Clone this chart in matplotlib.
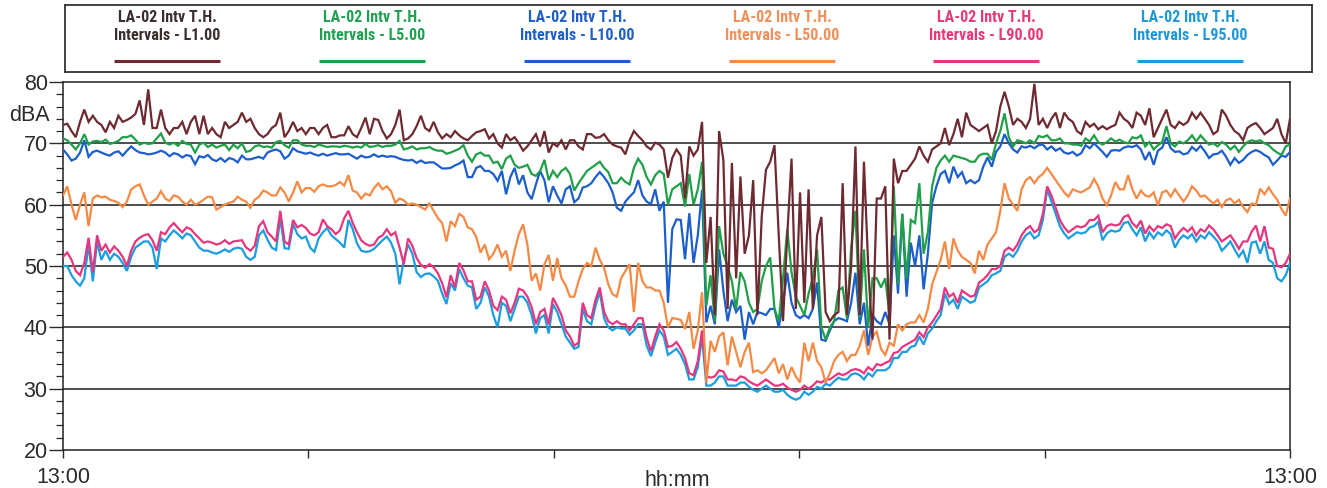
import numpy as np
import matplotlib
matplotlib.use("Agg")
import matplotlib.pyplot as plt
from matplotlib import font_manager
from matplotlib.ticker import MultipleLocator, FixedLocator

# ---------------- data (5-minute intervals, 13:00 -> 13:00) ----------------
L1_values = [
    73, 73.2, 72, 71, 73.5, 75.5, 73.5, 74.5, 73.5, 73, 71.8, 73.5, 72.5, 74.5, 73.5, 73.8, 74.2, 74.8, 77, 73, 78.8, 72.5, 72.5, 75.5,
    72.5, 71.5, 72.5, 72.5, 73.5, 71.5, 73.5, 74.5, 71.5, 74.5, 71.5, 72.5, 71.5, 71, 73.5, 72.5, 73, 73.5, 75, 73.5, 74, 72.5, 71.5, 71,
    71.5, 72.5, 73, 75, 71, 72, 73.5, 72, 72.5, 71.5, 72.5, 72.5, 71.5, 72.5, 73, 71, 71, 71.3, 71.3, 72.8, 71.5, 71, 72.5, 74.2,
    71.5, 74, 73.8, 72, 70.8, 71.5, 73, 75.5, 70.5, 70.8, 71.5, 72.8, 74.5, 72.5, 72, 73.5, 71.8, 70.8, 71.5, 71, 72, 71.3, 70.8, 70.5,
    71.2, 71.8, 72, 72.3, 70.8, 71.5, 70, 69.3, 71.5, 70.5, 71, 70, 68.8, 69.5, 70.5, 71.5, 69.5, 72, 68.5, 70, 69.5, 70.5, 69, 70.5,
    70.5, 69.5, 69, 71.5, 71.5, 70.9, 71, 71.5, 70.5, 69.8, 69.5, 69.3, 68.2, 70.5, 72, 71.2, 70.5, 69.5, 69, 70.1, 69.8, 69, 64.4, 67.6,
    69, 68, 61, 69.5, 68, 69, 73.5, 50.5, 58, 42, 72, 67.3, 43, 66.8, 48, 64.6, 52, 55, 64, 42, 58, 65.7, 67, 69.7,
    55, 41, 55, 67.5, 43, 62, 44, 62.5, 43, 55, 58, 42.5, 41, 42, 42.5, 63.5, 42, 50, 69.5, 42, 67, 50, 38, 61,
    61, 63, 38, 67.5, 63.5, 65.5, 65.5, 66.5, 67.5, 69.5, 68, 67, 69, 69.5, 70, 72.5, 69.7, 71.5, 74, 71, 75, 73, 72.5, 72,
    72.5, 73, 70, 72, 76, 78.4, 76, 73, 74, 73.5, 72.5, 74, 79.7, 73, 74, 72.5, 74, 75, 72.5, 75, 74, 73.5, 72, 71.5,
    73.5, 72.7, 73.2, 72.3, 72.8, 72.3, 72.7, 73, 75, 74, 73.5, 72.5, 75, 74.5, 73, 75.7, 71, 72.5, 74, 75.5, 73, 72.5, 73.5, 73,
    73.5, 75, 74, 75, 74, 73, 71.5, 72, 75.5, 74.5, 73, 72, 71.5, 70.5, 72.5, 73, 73.3, 72.5, 71.5, 72, 72.5, 74, 71.5, 70, 74,
]
L5_values = [
    70.8, 70.5, 69.8, 69, 70, 71.5, 69.8, 70.3, 70.4, 70.2, 70.6, 69.9, 70.1, 70.4, 71, 71, 71.3, 70.6, 69.8, 70.1, 69.9, 70, 70.8, 71.6,
    70.1, 69.8, 70.1, 69.6, 70.4, 69.9, 69.8, 68.5, 69.8, 70.1, 69.4, 69.8, 69.3, 69.6, 69.8, 68.9, 69.8, 69.2, 70, 68.6, 68.8, 69.5, 69.7, 69.4,
    69.5, 69.3, 70.2, 70.4, 69.7, 69.3, 70.5, 70.5, 69.8, 69.6, 69.6, 69.4, 69.8, 69.6, 69.4, 69.5, 69.5, 69.4, 69.6, 69.5, 69.3, 69.5, 69.3, 69.9,
    69.4, 69.5, 69.7, 69.4, 69.6, 69.6, 69.8, 70.4, 69, 69.2, 69.5, 69, 69.2, 69.2, 69.4, 69, 68.8, 68.8, 68.3, 68.5, 68.8, 69.1, 69.7, 68,
    67, 68.2, 68.5, 68, 68, 66.8, 67, 65.8, 67.5, 68, 66.5, 66, 66.2, 66.5, 65, 64.7, 65.5, 67.3, 64, 65.5, 64.5, 65.5, 66, 65,
    62.3, 63.5, 64.5, 65.5, 66, 66.5, 67, 66, 65.3, 63.5, 63.5, 64.4, 63.7, 63.3, 66, 67.5, 66.5, 64.5, 63.3, 64.8, 65.5, 65, 60, 62.5,
    63, 63.5, 59.7, 65, 60, 62.5, 67, 43.5, 48.5, 41, 56.5, 52, 50, 47.5, 43, 49, 47.5, 44, 42.5, 43, 47.5, 50, 51.4, 43,
    41, 48, 56, 49, 45, 43.5, 42, 45.5, 48, 52.7, 40, 38, 40, 41, 46, 46.5, 41.5, 53, 59, 41.5, 52.7, 40, 48, 48,
    46.5, 48, 42, 63, 47, 58.5, 48, 57.5, 57, 63.5, 52, 55.5, 63, 66, 67.2, 68, 67, 68, 67.8, 67.6, 67.4, 67, 67, 68,
    68.3, 68.3, 67.3, 70, 72, 74.9, 71, 69.5, 70.5, 70.3, 70, 70.5, 70, 71.2, 71, 71.3, 70.5, 70.5, 70.8, 70, 70, 69.8, 69.8, 69.6,
    70.8, 70.3, 71.3, 70.2, 69.8, 70.2, 70.8, 70.3, 70.6, 70.2, 70, 71, 70.8, 71.3, 69.5, 70.2, 69, 69.7, 70.2, 72.8, 70, 69.5, 70.3, 70,
    70.5, 71.3, 70.3, 71.3, 70.5, 69.8, 70, 69.5, 70.2, 69.8, 69, 69.6, 68.6, 69.5, 70.2, 70.5, 70.3, 70.5, 70, 69.7, 69, 68.5, 68.1, 69.5, 69.8,
]
L10_values = [
    69, 68.2, 67.2, 67.5, 68.5, 70.5, 67.8, 68.6, 68.8, 68.5, 68.2, 68, 68.5, 68.7, 68, 68.8, 69.5, 68.9, 68.5, 68.4, 68.2, 68.3, 68.5, 68.8,
    68.5, 67.9, 68.4, 68.2, 67.7, 68.1, 67.9, 66.6, 67.9, 67.7, 68.1, 67.4, 67.1, 67.6, 67, 67.6, 67.4, 66.9, 68, 67.4, 67.4, 67.6, 67.8, 67.5,
    68.5, 68.8, 69, 68.7, 67.5, 68, 69.2, 68.7, 68.5, 68.3, 68.5, 68.2, 68, 68.3, 68, 68.2, 68.4, 68.2, 68.2, 68.3, 67.9, 67.5, 68, 67.7,
    67.8, 68.2, 67.8, 68, 67.8, 67.9, 67.8, 67.5, 67.3, 67.2, 67.3, 66.8, 67.2, 66.8, 66.9, 66.9, 66.4, 65.9, 65.9, 66, 66.4, 66.7, 67.2, 64.5,
    64.5, 66, 66.3, 65.5, 65.5, 65, 63.9, 65.5, 61.7, 64.5, 66, 63.3, 64.8, 62, 60.9, 63.3, 65.5, 64, 60.4, 63, 61.5, 60.2, 62.5, 63,
    60.4, 61, 62.8, 63, 63.5, 64.5, 65.3, 64.5, 63.5, 62, 59.5, 59, 60.5, 61.3, 62, 64, 61.5, 60.5, 60.1, 62.5, 59, 60.5, 44, 56,
    57.6, 57.5, 51.1, 58.6, 50.5, 55, 62.4, 40.8, 43.5, 40.5, 52.7, 46, 41, 44.5, 42.5, 43.5, 38, 42.5, 40.5, 42.5, 42.3, 42, 43, 43,
    40, 44, 48.9, 44, 42, 41.5, 42, 41.5, 43, 47.3, 38, 37.8, 39.5, 41, 41.5, 41.3, 41, 44, 48.9, 40.5, 44, 37, 42, 41,
    40.5, 42.5, 40.5, 55, 45.5, 58.5, 45, 53.8, 50, 55, 46.2, 52, 60.3, 63, 65, 65.5, 63.5, 66.2, 64.5, 65.3, 63.5, 64, 63.5, 64,
    66.2, 67.7, 66.2, 68.6, 69.5, 71.5, 70, 69, 68.5, 69.5, 69.3, 69.6, 69.2, 69.7, 69.8, 69, 69.5, 68.8, 69.2, 68.5, 68.3, 68.6, 68, 68.4,
    69.7, 69.2, 70, 69.3, 68.6, 67.8, 68.8, 68.9, 68.8, 69.3, 69.5, 69.4, 69.7, 69, 67.3, 68.6, 66.5, 68.8, 69.3, 71, 69.2, 68.6, 68.7, 68.2,
    68.4, 69.4, 68.8, 69.6, 68.7, 67.6, 68.2, 68.3, 68.8, 67.8, 66.5, 67.6, 66.8, 67.3, 68.1, 68.6, 68.9, 68.6, 68.1, 67.7, 66.5, 67.2, 68, 67.8, 68.6,
]
L50_values = [
    61.5, 63, 60, 57.5, 60, 62, 56.5, 61, 61.5, 61.2, 61.3, 60.8, 60.6, 60.3, 59.6, 60.5, 62.5, 63, 63.3, 61.5, 60, 60.5, 61, 62.2,
    61, 60.6, 61.5, 61.3, 60.5, 60, 60.8, 60, 60.3, 60.8, 61.3, 61.2, 59.2, 59.6, 60, 60.3, 60.5, 61.3, 60.8, 60.5, 59.5, 60.8, 61.3, 62.3,
    62, 61.5, 61.5, 62.8, 62, 60.5, 62, 63.8, 62, 62.7, 62.7, 62.1, 63, 63.3, 63, 63, 63.2, 63.7, 63.1, 64.8, 62.3, 62, 61, 61.8,
    61.5, 62.7, 63.5, 62.5, 63, 62.2, 60.3, 61, 60.7, 60, 60.2, 60, 59.6, 59.2, 60.2, 59, 57.8, 57, 54, 57.3, 56.5, 58.5, 58, 56.3,
    56, 54.7, 52.2, 53.5, 51.1, 52, 53.5, 51.5, 52.5, 49.2, 52.5, 55.2, 56.8, 53.5, 47.6, 48.8, 46, 50.3, 51.8, 47.6, 51.3, 48, 46.8, 45,
    45, 47.5, 49.5, 50.5, 50, 53, 51, 49.7, 47, 45.4, 45, 48, 49.2, 50.3, 42.5, 50.5, 47.5, 46.5, 46.5, 46, 46, 44, 40, 41.5,
    41.4, 41.2, 39.7, 42.5, 36.5, 39.5, 45.7, 31, 37.8, 36, 38.5, 39.2, 33.8, 38.5, 36, 33.5, 36, 37.5, 32.7, 33, 32.5, 33, 34, 35,
    32.5, 34, 31.5, 33.5, 32, 31, 37.5, 34.5, 37.5, 34.5, 33.5, 31, 32.5, 34.5, 35.5, 36, 34.5, 35.5, 35.5, 37, 39.5, 35.5, 38.5, 39.3,
    36.5, 35.5, 37.5, 37, 40.5, 39.5, 40.5, 40.8, 40.8, 42, 40.8, 43, 47, 49, 51, 54, 49.5, 54.5, 52.5, 51.5, 51, 50.5, 48.8, 52.5,
    51, 53.5, 54.5, 55.5, 59, 63.5, 61, 60, 59, 62.5, 64, 64.5, 63.5, 64.5, 65, 66, 65, 64, 63, 62, 61.3, 62.5, 62.2, 62,
    62.4, 62.8, 64.2, 63, 61, 59.9, 61.5, 63.7, 62.5, 62.5, 64.8, 62.5, 61, 62.3, 61.5, 61.3, 62, 59.9, 62, 62.3, 61.3, 62.5, 61.5, 60.5,
    61.5, 63, 62.3, 61.3, 61.5, 60.8, 60.2, 60.8, 59.6, 60.7, 61, 60.2, 60.8, 59.6, 58.8, 60.2, 60, 62.6, 61.7, 62.8, 61.7, 60.8, 59.3, 58.2, 61,
]
L90_values = [
    51.5, 52.2, 51, 49.2, 48.5, 50.5, 54.6, 49, 55, 52.5, 53.5, 52.2, 53.2, 52.5, 51.5, 50, 52.5, 54, 54.6, 55, 55.2, 54.2, 52.5, 55.5,
    55.2, 56.3, 57, 56.2, 55.5, 56.3, 56, 55.2, 54.5, 53.8, 54, 53.8, 53.5, 53.7, 54.2, 53.6, 54, 54.1, 54.2, 53, 52.5, 53.3, 56.5, 57.3,
    55.5, 54.8, 54, 59, 54, 53.5, 57.5, 56.3, 56.7, 56.2, 55.3, 55, 55.5, 57.6, 56.5, 56, 55.2, 55.8, 57.8, 59, 57, 55.5, 54.2, 53.6,
    53.3, 53.5, 54.6, 55, 56, 55, 55.5, 53, 50.3, 54.5, 53.3, 51.3, 50.2, 49.7, 50.3, 49.8, 48.8, 47.2, 44.9, 48.5, 46.5, 50.5, 49.3, 47.5,
    47.5, 44.5, 45, 47.5, 46, 43.5, 42.8, 45, 44.5, 42.3, 44, 46.3, 46, 45, 43.3, 40.5, 42.5, 43, 40.5, 44.8, 43.5, 42, 39.5, 38.5,
    37, 37.5, 44, 42, 41.5, 44.5, 46.5, 42.5, 41, 40.5, 41, 40.5, 40.5, 39.5, 40.5, 41.5, 41.5, 38.3, 36.1, 38.5, 40.5, 39.5, 36.8, 37,
    37.6, 36.5, 35, 32.5, 32.2, 34.5, 39.5, 32, 31.8, 32, 33, 32.8, 31.5, 31.5, 31.3, 32, 31.8, 31.2, 30.8, 30.5, 31, 31.5, 31, 30.5,
    30.5, 30.8, 30.2, 29.8, 29.5, 29.8, 30.5, 30, 30.5, 31.2, 31, 31.5, 31.5, 32, 32.5, 32.2, 32.5, 33, 33.2, 33, 32.5, 33.5, 33, 34,
    33.8, 34.2, 34.5, 35.8, 36, 36.8, 37.2, 37.6, 38, 39.2, 38.4, 40, 40.8, 41.9, 43, 46.5, 45, 45.5, 44, 46, 45.5, 45, 45.2, 47.3,
    47.8, 48.5, 49.5, 49.5, 50, 52.5, 53, 52.5, 53.5, 55, 56, 56.5, 55.5, 56, 58.5, 63, 61.5, 59.5, 57.5, 56.3, 55.5, 56, 56.5, 56.3,
    56.6, 57.5, 57.5, 58.2, 55.5, 56.5, 56.8, 56.6, 56.8, 58, 58.3, 57, 56.3, 57.4, 55.3, 56.5, 55.7, 56.5, 56.2, 56.8, 56.5, 54.5, 55.5, 56.2,
    55.6, 56.3, 55, 56, 55.6, 56.6, 56, 55, 54, 54.5, 55, 54, 52.8, 54, 54, 55.6, 56.6, 54, 56.5, 53, 52.8, 50, 49.8, 50.5, 52,
]
L95_values = [
    50, 50, 48.5, 47.5, 46.8, 48, 53.5, 47.5, 54, 51, 52.5, 51, 52, 51.5, 50.5, 49.2, 51.5, 53, 53.5, 54, 54, 53, 49.5, 54.5,
    54, 55, 55.8, 55.2, 54.5, 55.3, 55, 54, 53, 52.5, 52.5, 52.2, 52, 52.3, 52.7, 52.3, 52.8, 53, 52.8, 51.5, 51, 51.5, 55, 55.8,
    54.3, 53, 52.6, 57.8, 52.9, 52.8, 56.8, 55.2, 54.5, 54.8, 53, 52.3, 54.5, 55.5, 56.2, 55, 54.4, 53.8, 53, 57.5, 56, 53.7, 52.5, 52.3,
    52.4, 52.8, 53.5, 54.2, 54.8, 53.8, 52, 47, 51, 53.5, 52, 49, 48.2, 48.7, 48.8, 48.3, 47.6, 45.5, 43.8, 47.2, 46, 49.5, 48, 46.8,
    46.5, 43, 44, 46.5, 45, 42, 40, 44, 43.5, 41, 43, 45, 45, 44, 42, 39, 41.5, 42, 39, 43.8, 42.5, 40.5, 38.5, 37.5,
    36.5, 36.8, 43, 41, 40.5, 43.5, 45.8, 41.5, 40, 39.5, 40, 39.8, 39.8, 38.8, 39.5, 40.5, 40.5, 37, 35.3, 37.5, 39.5, 38.5, 35.5, 36,
    36.5, 35.5, 34, 31.5, 31.5, 33.5, 38.5, 30.5, 30.5, 31, 32, 32, 30.5, 30.5, 30.5, 31, 31, 30.3, 29.8, 29.5, 30, 30.5, 30, 29.5,
    29.5, 29.8, 29, 28.5, 28.2, 28.5, 29.5, 29, 29.5, 30.3, 30, 30.8, 30.5, 31.2, 31.8, 31.5, 31.5, 32.3, 32.5, 32.2, 31.5, 32.5, 32, 33,
    33, 33, 33.5, 35, 35, 36, 36, 36.8, 37, 38.5, 37.2, 39, 39.8, 41, 42, 45.5, 43.8, 44.5, 43, 45, 44.5, 44, 44.3, 46.5,
    47, 47.5, 48.5, 48.8, 49.2, 51.5, 52, 51.5, 52.5, 54, 55, 55.5, 54.5, 55, 57.5, 62.5, 60.5, 58.5, 56.5, 55.3, 54.5, 55, 55.5, 55.3,
    55.5, 56.3, 56.5, 57.2, 54.2, 55.3, 55.8, 55.6, 55.8, 57, 57.2, 56, 55, 56.3, 54, 55.5, 54.5, 55.5, 55, 55.8, 55.2, 53, 54.3, 55,
    54.5, 55.2, 54, 55, 54.5, 55.5, 54.8, 54, 52.5, 53.2, 54, 52.7, 51.5, 52.5, 50.5, 53.8, 54, 52, 54, 51, 50.5, 48, 47.5, 48.5, 50.5,
]

series_names = ["L1.00", "L5.00", "L10.00", "L50.00", "L90.00", "L95.00"]
series_values = [L1_values, L5_values, L10_values, L50_values, L90_values, L95_values]
line_colors = ["#6e2a30", "#1fa048", "#1c5ecb", "#f58a45", "#e8357f", "#1b9ddf"]
text_colors = ["#3b2d2d", "#20a050", "#2060c4", "#f0905a", "#e63a7a", "#2098d8"]
y_ticks = [20, 30, 40, 50, 60, 70, 80]
x_tick_hours = [0, 4.8, 9.6, 14.4, 19.2, 24]
x_tick_labels = ["13:00", "", "", "", "", "13:00"]

# ---------------- fonts ----------------
available = {f.name for f in font_manager.fontManager.ttflist}
def pick(cands):
    for c in cands:
        if c in available:
            return c
    return "DejaVu Sans"
base_font = pick(["Liberation Sans", "Arial", "DejaVu Sans"])
narrow_font = pick(["Liberation Sans Narrow", "Arial Narrow", "DejaVu Sans Condensed", "Roboto Condensed", "Liberation Sans"])
plt.rcParams["font.family"] = [base_font, "DejaVu Sans"]

W, H = 1327, 488
fig = plt.figure(figsize=(W / 100, H / 100), dpi=100)
fig.patch.set_facecolor("white")

ax_l, ax_r, ax_t, ax_b = 63, 1290, 82, 450
ax = fig.add_axes([ax_l / W, (H - ax_b) / H, (ax_r - ax_l) / W, (ax_b - ax_t) / H])

# draw order: L95 first, L1 last (on top)
for vals, col in list(zip(series_values, line_colors))[::-1]:
    x = np.arange(len(vals)) / 12.0
    ax.plot(x, vals, color=col, lw=1.6, solid_joinstyle="miter", zorder=3)

ax.set_xlim(0, 24)
ax.set_ylim(20, 80)
ax.yaxis.set_major_locator(FixedLocator(y_ticks))
ax.yaxis.set_minor_locator(MultipleLocator(2))
ax.set_xticks(x_tick_hours)
ax.set_xticklabels(x_tick_labels)

for gy in y_ticks[1:-1]:
    ax.axhline(gy, color="#1e1e1e", lw=1.1, zorder=2)

for s in ax.spines.values():
    s.set_color("#222222")
    s.set_linewidth(1.1)

tick_col = "#2a2a2a"
ax.tick_params(axis="y", which="major", direction="out", length=10, width=1.0,
               pad=1, labelsize=15.5, colors=tick_col)
ax.tick_params(axis="y", which="minor", direction="out", length=5, width=0.9, colors=tick_col)
ax.tick_params(axis="x", which="major", direction="out", length=6, width=1.0,
               pad=6, labelsize=15.5, colors=tick_col)

ax.annotate("dBA", xy=(0, 74.6), xycoords=("axes fraction", "data"),
            xytext=(-9.5, 0), textcoords="offset points",
            ha="right", va="center", fontsize=15.5, color=tick_col)
fig.text(677 / W, (H - 480) / H, "hh:mm", ha="center", va="center",
         fontsize=15.5, color=tick_col)

# ---------------- legend box ----------------
lg_l, lg_r, lg_t, lg_b = 65, 1312, 5, 72
lax = fig.add_axes([lg_l / W, (H - lg_b) / H, (lg_r - lg_l) / W, (lg_b - lg_t) / H])
lax.set_xlim(lg_l, lg_r)
lax.set_ylim(lg_b, lg_t)
lax.set_xticks([])
lax.set_yticks([])
for s in lax.spines.values():
    s.set_color("#333333")
    s.set_linewidth(1.3)

centers = [167, 372, 577, 782, 986, 1190]
for cx, name, lc, tc in zip(centers, series_names, line_colors, text_colors):
    lax.text(cx, 17, "LA-02 Intv T.H.", ha="center", va="center", color=tc,
             fontsize=11.5, fontweight="bold", family=[narrow_font, "DejaVu Sans"])
    lax.text(cx, 35, "Intervals - " + name, ha="center", va="center", color=tc,
             fontsize=11.5, fontweight="bold", family=[narrow_font, "DejaVu Sans"])
    lax.plot([cx - 53, cx + 53], [61, 61], color=lc, lw=2.2, solid_capstyle="butt")

fig.savefig("out.png", dpi=100, facecolor="white")
